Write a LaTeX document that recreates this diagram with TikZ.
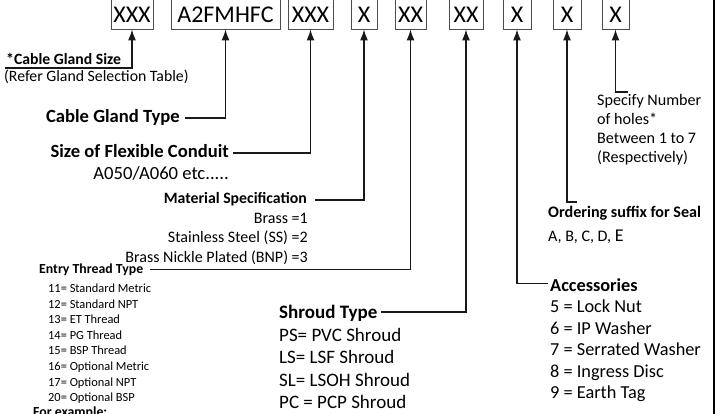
\documentclass[tikz,border=0pt]{standalone}
\usepackage{fontspec}
\setmainfont{Carlito}
\usetikzlibrary{arrows.meta}
\newcommand\fsz[1]{\fontsize{#1}{#1}\selectfont}
\tikzset{
  codebox/.style={draw=black!70, line width=0.9pt, inner sep=0pt, text height=27pt, text depth=6pt, anchor=base, font=\fsz{24}},
  conn/.style={draw=black!90, line width=1.3pt, -{Latex[length=11pt,width=8pt]}},
  lbl/.style={inner sep=0pt, anchor=base west},
  lblr/.style={inner sep=0pt, anchor=base east},
}
\begin{document}
\begin{tikzpicture}[x=1pt,y=-1pt]
\useasboundingbox (0,0) rectangle (723,414);
% code boxes
\node[codebox, minimum width=42pt] (b1) at (132,23) {XXX};
\node[codebox, minimum width=109pt] (b2) at (225.5,23) {A2FMHFC};
\node[codebox, minimum width=45pt] (b3) at (310.5,23) {XXX};
\node[codebox, minimum width=26pt] (b4) at (364,23) {X};
\node[codebox, minimum width=31pt] (b5) at (410.5,23) {XX};
\node[codebox, minimum width=34pt] (b6) at (466,23) {XX};
\node[codebox, minimum width=28pt] (b7) at (517,23) {X};
\node[codebox, minimum width=28pt] (b8) at (567,23) {X};
\node[codebox, minimum width=27pt] (b9) at (615.5,23) {X};
% right rule
\coordinate (r1) at (714,-2);
\coordinate (r2) at (714,416);
\draw[line width=2.5pt] (r1) -- (r2);
% 1 cable gland size
\node[lbl, font=\bfseries\fsz{15.7}] (n1) at (6,65) {*Cable Gland Size};
\node[lbl, font=\fsz{15.8}] (n1b) at (4,82) {(Refer Gland Selection Table)};
\coordinate (c1) at (5,68);
\draw[conn] (c1) -| (b1.south);
% 2 cable gland type
\node[lblr, font=\bfseries\fsz{18.6}] (n2) at (180,123) {Cable Gland Type};
\coordinate (c2) at (185,118);
\draw[conn] (c2) -| (b2.south);
% 3 size of flexible conduit
\node[lblr, font=\bfseries\fsz{18.6}] (n3) at (229,158) {Size of Flexible Conduit};
\node[lblr, font=\fsz{18.6}] (n3b) at (229,180) {A050/A060 etc.....};
\coordinate (c3) at (233,153);
\draw[conn] (c3) -| (b3.south);
% 4 material specification
\node[lblr, font=\bfseries\fsz{15.8}] (n4) at (307,204) {Material Specification};
\node[lblr, font=\fsz{16}] (n4a) at (308,224) {Brass =1};
\node[lblr, font=\fsz{16}] (n4b) at (308,243) {Stainless Steel (SS) =2};
\node[lblr, font=\fsz{16}] (n4c) at (308,262) {Brass Nickle Plated (BNP) =3};
\coordinate (c4) at (315,200);
\draw[conn] (c4) -| (b4.south);
% 5 entry thread type
\node[lbl, font=\bfseries\fsz{13.8}] (n5) at (39,273.5) {Entry Thread Type};
\coordinate (c5) at (150,269.5);
\draw[conn] (c5) -| (b5.south);
\node[lbl, font=\fsz{12.4}] (e1) at (48,292.5) {11= Standard Metric};
\node[lbl, font=\fsz{12.4}] (e2) at (48,308.1) {12= Standard NPT};
\node[lbl, font=\fsz{12.4}] (e3) at (48,323.7) {13= ET Thread};
\node[lbl, font=\fsz{12.4}] (e4) at (48,339.3) {14= PG Thread};
\node[lbl, font=\fsz{12.4}] (e5) at (48,354.9) {15= BSP Thread};
\node[lbl, font=\fsz{12.4}] (e6) at (48,370.5) {16= Optional Metric};
\node[lbl, font=\fsz{12.4}] (e7) at (48,386.1) {17= Optional NPT};
\node[lbl, font=\fsz{12.4}] (e8) at (48,401.7) {20= Optional BSP};
\node[lbl, font=\bfseries\fsz{13.8}] (ex) at (33,416) {For example:};
% 6 shroud type
\node[lbl, font=\bfseries\fsz{19}] (n6) at (279,318) {Shroud Type};
\coordinate (c6) at (381,312);
\draw[conn] (c6) -| (b6.south);
\node[lbl, font=\fsz{19}] (s1) at (279,341) {PS= PVC Shroud};
\node[lbl, font=\fsz{19}] (s2) at (279,363.5) {LS= LSF Shroud};
\node[lbl, font=\fsz{19}] (s3) at (279,386) {SL= LSOH Shroud};
\node[lbl, font=\fsz{19}] (s4) at (279,408.5) {PC = PCP Shroud};
% 7 accessories
\node[lbl, font=\bfseries\fsz{18.3}] (n7) at (550,291.5) {Accessories};
\coordinate (c7) at (548,283.5);
\draw[conn] (c7) -| (b7.south);
\node[lbl, font=\fsz{18.3}] (a1) at (550,312.5) {5 = Lock Nut};
\node[lbl, font=\fsz{18.3}] (a2) at (550,334) {6 = IP Washer};
\node[lbl, font=\fsz{18.3}] (a3) at (550,355.5) {7 = Serrated Washer};
\node[lbl, font=\fsz{18.3}] (a4) at (550,377) {8 = Ingress Disc};
\node[lbl, font=\fsz{18.3}] (a5) at (550,398.5) {9 = Earth Tag};
% 8 ordering suffix
\node[lbl, font=\bfseries\fsz{16.1}] (n8) at (548,218) {Ordering suffix for Seal};
\node[lbl, font=\fsz{16.1}] (n8b) at (548,241) {A, B, C, D, {\fsz{18}E}};
\coordinate (c8) at (577,202);
\draw[conn] (c8) -| (b8.south);
% 9 number of holes
\node[lbl, font=\fsz{16.1}] (n9) at (597,106) {Specify Number};
\node[lbl, font=\fsz{16.1}] (n9b) at (597,125) {of holes*};
\node[lbl, font=\fsz{16.1}] (n9c) at (597,144) {Between 1 to 7};
\node[lbl, font=\fsz{16.1}] (n9d) at (597,163) {(Respectively)};
\coordinate (c9) at (628,92);
\draw[conn] (c9) -| (b9.south);
\end{tikzpicture}
\end{document}
